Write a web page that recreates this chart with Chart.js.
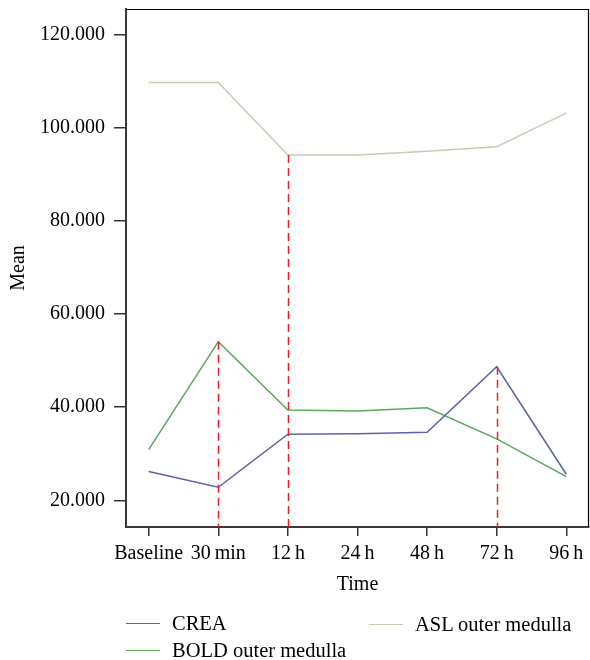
<!DOCTYPE html>
<html>
<head>
<meta charset="utf-8">
<script src="https://cdn.jsdelivr.net/npm/chart.js@4"></script>
<style>
  html, body { margin: 0; padding: 0; background: #fff; }
  #wrap { position: relative; width: 590px; height: 660px; }
  #legend { position: absolute; left: 0; top: 0; width: 590px; height: 660px; pointer-events: none;
            font-family: 'Liberation Serif', 'DejaVu Serif', serif; font-size: 20.5px; color: #000; }
  .item { position: absolute; display: flex; align-items: center; white-space: nowrap; }
  .swatch { width: 34px; height: 0; border-top: 1.5px solid; margin-right: 12px; }
</style>
</head>
<body>
<div id="wrap">
  <canvas id="c" width="590" height="660"></canvas>
  <div id="legend"></div>
</div>
<script>
// ---- data ----
const categories = ['Baseline', '30\u2009min', '12\u2009h', '24\u2009h', '48\u2009h', '72\u2009h', '96\u2009h'];
const seriesNames = ['CREA', 'BOLD outer medulla', 'ASL outer medulla'];
const crea = [26.2, 22.8, 34.2, 34.3, 34.6, 48.7, 25.6];
const bold = [30.9, 54.1, 39.4, 39.2, 39.9, 33.2, 25.1];
const asl  = [109.8, 109.8, 94.2, 94.2, 95.0, 96.0, 103.2];
const yTickValues = [20, 40, 60, 80, 100, 120];
const yTickLabels = ['20.000', '40.000', '60.000', '80.000', '100.000', '120.000'];
// reference (dashed drop) lines: [series index, category index]
const dropLines = [[1, 1], [2, 2], [0, 5]];

const colors = ['#5a64a8', '#5aa85a', '#cdcab0'];
const FONT = 'Liberation Serif';
const FS = 20;

const toXY = arr => arr.map((v, i) => ({ x: i, y: v }));
const seriesValues = [crea, bold, asl];

const dropPlugin = {
  id: 'drops',
  afterDatasetsDraw(chart) {
    const ctx = chart.ctx, area = chart.chartArea;
    ctx.save();
    ctx.strokeStyle = '#ee1c25';
    ctx.lineWidth = 1.5;
    ctx.setLineDash([8, 5]);
    dropLines.forEach(([s, i]) => {
      const p = chart.getDatasetMeta(s).data[i];
      ctx.beginPath();
      ctx.moveTo(Math.round(p.x) + 0.5, p.y);
      ctx.lineTo(Math.round(p.x) + 0.5, area.bottom);
      ctx.stroke();
    });
    ctx.restore();
  }
};

const framePlugin = {
  id: 'frame',
  afterDraw(chart) {
    const ctx = chart.ctx, a = chart.chartArea;
    ctx.save();
    ctx.strokeStyle = '#000';
    ctx.lineWidth = 1.2;
    ctx.beginPath();
    ctx.moveTo(a.left, a.top + 0.5);
    ctx.lineTo(a.right - 0.5, a.top + 0.5);
    ctx.lineTo(a.right - 0.5, a.bottom);
    ctx.stroke();
    ctx.restore();
  }
};

new Chart(document.getElementById('c'), {
  type: 'line',
  data: {
    datasets: seriesValues.map((vals, k) => ({
      label: seriesNames[k],
      data: toXY(vals),
      borderColor: colors[k],
      backgroundColor: colors[k],
      borderWidth: 1.5,
      pointRadius: 0,
      tension: 0,
      fill: false
    }))
  },
  options: {
    responsive: false,
    devicePixelRatio: 1,
    animation: false,
    layout: { padding: { top: 9, right: 1, left: 0, bottom: 0 } },
    plugins: { legend: { display: false }, tooltip: { enabled: false } },
    scales: {
      x: {
        type: 'linear',
        min: -0.326,
        max: 6.326,
        afterBuildTicks: s => { s.ticks = categories.map((_, i) => ({ value: i })); },
        afterFit: s => { s.height = 133; s.paddingLeft = 0; s.paddingRight = 0; },
        ticks: {
          autoSkip: false,
          maxRotation: 0,
          padding: 6,
          color: '#000',
          font: { family: FONT, size: FS },
          callback: v => categories[v]
        },
        grid: { drawOnChartArea: false, drawTicks: true, tickLength: 9, color: '#333', lineWidth: 1.5 },
        border: { display: true, color: '#3a3a3a', width: 2 },
        title: { display: true, text: 'Time', color: '#000', font: { family: FONT, size: FS }, padding: { top: 0, bottom: 63 } }
      },
      y: {
        type: 'linear',
        min: 14.26,
        max: 125.59,
        afterBuildTicks: s => { s.ticks = yTickValues.map(v => ({ value: v })); },
        afterFit: s => { s.width = 126; s.paddingTop = 0; s.paddingBottom = 0; },
        ticks: {
          padding: 9,
          color: '#000',
          font: { family: FONT, size: FS },
          callback: v => yTickLabels[yTickValues.indexOf(v)]
        },
        grid: { drawOnChartArea: false, drawTicks: true, tickLength: 12, color: '#333', lineWidth: 1.5 },
        border: { display: true, color: '#3a3a3a', width: 2 },
        title: { display: true, text: 'Mean', color: '#000', font: { family: FONT, size: FS }, padding: { top: 7, bottom: 0 } }
      }
    }
  },
  plugins: [dropPlugin, framePlugin]
});

// HTML legend built from series names / colors
const legendPos = [[126, 623], [126, 650], [369, 624]];
const legend = document.getElementById('legend');
seriesNames.forEach((name, k) => {
  const d = document.createElement('div');
  d.className = 'item';
  d.style.left = legendPos[k][0] + 'px';
  d.style.top = (legendPos[k][1] - 12) + 'px';
  d.style.height = '24px';
  const sw = document.createElement('span');
  sw.className = 'swatch';
  sw.style.borderTopColor = colors[k];
  const t = document.createElement('span');
  t.textContent = name;
  d.appendChild(sw);
  d.appendChild(t);
  legend.appendChild(d);
});
</script>
</body>
</html>
